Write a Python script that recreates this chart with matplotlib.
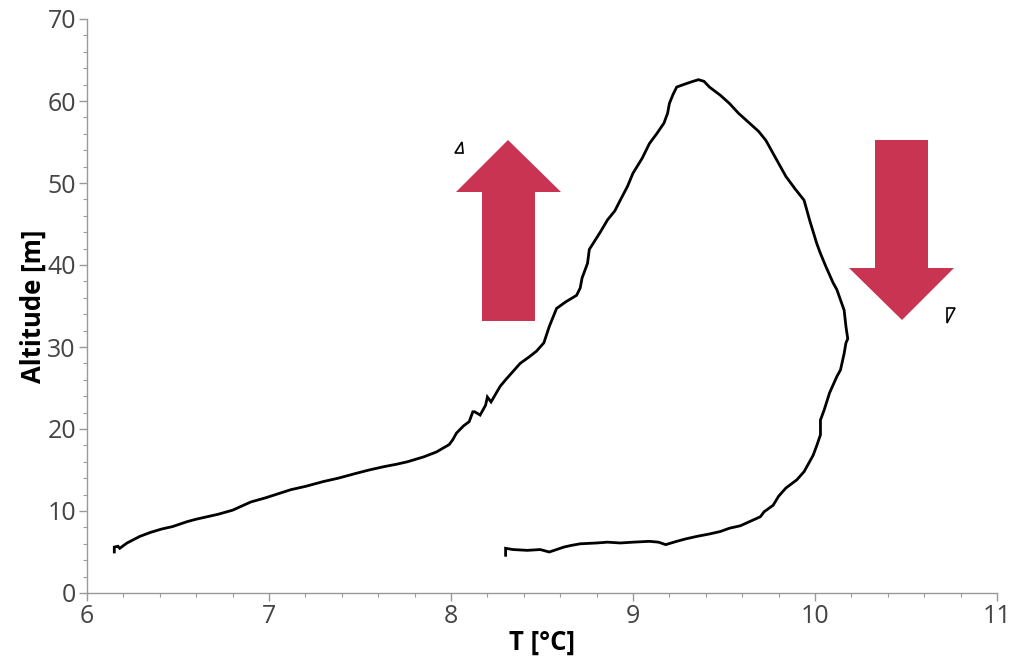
import matplotlib
matplotlib.use("Agg")
import matplotlib.pyplot as plt
from matplotlib.patches import Polygon
from matplotlib.ticker import MultipleLocator

# Temperature (°C) and altitude (m) along the profile (ascent then descent)
temp = [6.15, 6.15, 6.17, 6.18, 6.22, 6.29, 6.35, 6.41, 6.47, 6.55, 6.60, 6.66, 6.72,
        6.80, 6.90, 6.98, 7.05, 7.12, 7.20, 7.30, 7.38, 7.48, 7.55, 7.63, 7.70, 7.76,
        7.85, 7.92, 7.99, 8.01, 8.03, 8.07, 8.10, 8.12, 8.13, 8.16, 8.19, 8.20, 8.22,
        8.27, 8.30, 8.34, 8.38, 8.43, 8.47, 8.51, 8.54, 8.56, 8.58, 8.63, 8.69, 8.71,
        8.72, 8.75, 8.76, 8.78, 8.82, 8.86, 8.90, 8.93, 8.97, 9.00, 9.05, 9.09, 9.13,
        9.17, 9.19, 9.20, 9.22, 9.24, 9.29, 9.33, 9.36, 9.39, 9.42, 9.48, 9.53, 9.58,
        9.64, 9.69, 9.73, 9.76, 9.79, 9.84, 9.89, 9.94, 9.97, 10.01, 10.03, 10.06,
        10.10, 10.12, 10.16, 10.17, 10.18, 10.17, 10.16, 10.14, 10.12, 10.08, 10.05,
        10.03, 10.03, 10.01, 9.99, 9.94, 9.90, 9.84, 9.80, 9.77, 9.72, 9.70, 9.66,
        9.59, 9.53, 9.48, 9.42, 9.35, 9.29, 9.24, 9.18, 9.14, 9.09, 9.00, 8.93, 8.86,
        8.80, 8.71, 8.66, 8.62, 8.54, 8.49, 8.42, 8.34, 8.30, 8.30]
alt = [5.0, 5.6, 5.7, 5.45, 6.1, 6.9, 7.4, 7.8, 8.1, 8.7, 9.0, 9.3, 9.6,
       10.1, 11.1, 11.6, 12.1, 12.6, 13.0, 13.6, 14.0, 14.6, 15.0, 15.4, 15.7, 16.0,
       16.6, 17.2, 18.1, 18.7, 19.5, 20.4, 20.9, 22.1, 22.1, 21.7, 22.9, 23.9, 23.3,
       25.2, 26.0, 27.0, 28.0, 28.8, 29.5, 30.5, 32.5, 33.6, 34.7, 35.5, 36.3, 37.2,
       38.4, 40.2, 41.9, 42.6, 44.0, 45.5, 46.6, 47.9, 49.6, 51.2, 53.0, 54.8, 56.0,
       57.3, 58.5, 59.7, 60.8, 61.7, 62.1, 62.4, 62.6, 62.4, 61.7, 60.7, 59.7, 58.5,
       57.3, 56.3, 55.2, 54.0, 52.8, 50.8, 49.3, 47.9, 45.5, 42.6, 41.4, 39.8,
       37.8, 37.0, 34.5, 32.5, 31.0, 30.5, 29.2, 27.2, 26.4, 24.4, 22.3,
       21.1, 19.3, 18.0, 16.8, 14.8, 13.8, 12.8, 11.8, 10.7, 9.9, 9.3, 8.9,
       8.2, 7.9, 7.5, 7.2, 6.9, 6.6, 6.3, 5.9, 6.2, 6.3, 6.2, 6.1, 6.2,
       6.1, 6.0, 5.8, 5.6, 5.0, 5.3, 5.2, 5.3, 5.45, 4.6]

xticks = [6, 7, 8, 9, 10, 11]
yticks = [0, 10, 20, 30, 40, 50, 60, 70]
xlabel = "T [°C]"
ylabel = "Altitude [m]"

W, H = 1010, 663
plt.rcParams['font.family'] = ['Open Sans', 'DejaVu Sans']
fig = plt.figure(figsize=(W / 100, H / 100), dpi=100)
ax = fig.add_axes([87 / W, 1 - 593 / H, (997 - 87) / W, (593 - 19) / H])

ax.plot(temp, alt, color='black', lw=2.0, solid_joinstyle='miter')

ax.set_xlim(6, 11)
ax.set_ylim(0, 70)
ax.set_xticks(xticks)
ax.set_yticks(yticks)
ax.xaxis.set_minor_locator(MultipleLocator(0.2))
ax.yaxis.set_minor_locator(MultipleLocator(2))
for s in ('top', 'right'):
    ax.spines[s].set_visible(False)
for s in ('left', 'bottom'):
    ax.spines[s].set_color('#999999')
    ax.spines[s].set_linewidth(1.0)
ax.tick_params(which='major', length=6, color='#999999', labelsize=18,
               labelcolor='#444444', width=1, pad=2)
ax.tick_params(which='minor', length=3, color='#999999', width=0.8)
ax.set_xlabel(xlabel, fontsize=18.5, fontweight='bold', labelpad=0)
ax.set_ylabel(ylabel, fontsize=18.5, fontweight='bold', labelpad=0)


def fpoly(pts, **kw):
    verts = [(x / W, 1 - y / H) for x, y in pts]
    fig.add_artist(Polygon(verts, closed=True, transform=fig.transFigure, **kw))


red = '#C83452'
fpoly([(482, 321), (482, 192), (456, 192), (508, 140), (561, 192), (535, 192), (535, 321)],
      facecolor=red, edgecolor='none')
fpoly([(875, 140), (928, 140), (928, 268), (954, 268), (902, 320), (849, 268), (875, 268)],
      facecolor=red, edgecolor='none')
fpoly([(455, 153), (463, 153), (462, 142)], facecolor='white', edgecolor='black', lw=1.2)
fpoly([(947, 308), (955, 308), (947, 323)], facecolor='white', edgecolor='black', lw=1.2)

fig.savefig('out.png', dpi=100)
